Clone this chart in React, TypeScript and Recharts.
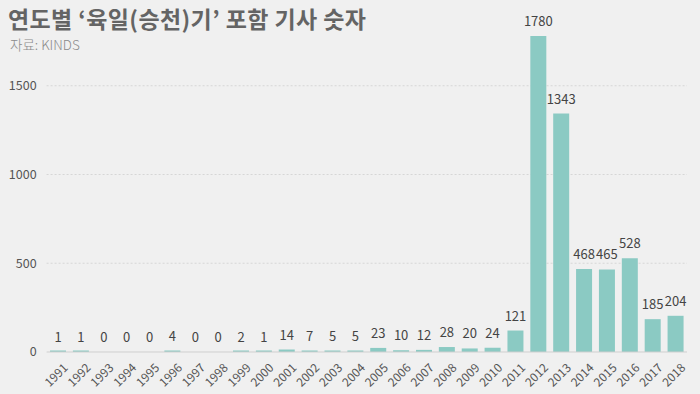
import React from "react";
import { ComposedChart, Bar, Line, XAxis, YAxis, CartesianGrid, LabelList } from "recharts";

const years = [
  "1991", "1992", "1993", "1994", "1995", "1996", "1997", "1998", "1999", "2000",
  "2001", "2002", "2003", "2004", "2005", "2006", "2007", "2008", "2009", "2010",
  "2011", "2012", "2013", "2014", "2015", "2016", "2017", "2018",
];
const counts = [
  1, 1, 0, 0, 0, 4, 0, 0, 2, 1,
  14, 7, 5, 5, 23, 10, 12, 28, 20, 24,
  121, 1780, 1343, 468, 465, 528, 185, 204,
];
const yTicks = [0, 500, 1000, 1500];

const data = years.map((year, i) => ({ year, count: counts[i] }));

const font = "'Noto Sans CJK KR', 'Noto Sans', sans-serif";

const YearTick = (props: any) => {
  const { x, y, payload } = props;
  return (
    <g transform={`translate(${x + 5},${y + 3})`}>
      <text
        transform="rotate(-45)"
        textAnchor="end"
        dy={8}
        fontSize={12}
        fill="#555"
        fontFamily={font}
      >
        {payload.value}
      </text>
    </g>
  );
};

// labels are hung on an invisible line so that zero values get one too
const ValueLabel = (props: any) => {
  const { x, y, value } = props;
  return (
    <text
      x={x}
      y={y - 10}
      textAnchor="middle"
      fontSize={13}
      fill="#444"
      fontFamily={font}
    >
      {value}
    </text>
  );
};

export default function App() {
  return (
    <div
      style={{
        position: "absolute",
        left: 0,
        top: 0,
        width: 700,
        height: 394,
        background: "#f0f0f0",
        fontFamily: font,
        overflow: "hidden",
      }}
    >
      <div
        style={{
          position: "absolute",
          left: 8,
          top: 3,
          fontSize: 23,
          fontWeight: 700,
          color: "#646464",
          lineHeight: "30px",
          letterSpacing: 0.4,
        }}
      >
        연도별 ‘육일(승천)기’ 포함 기사 숫자
      </div>
      <div
        style={{
          position: "absolute",
          left: 10,
          top: 35,
          fontSize: 13.5,
          fontWeight: 300,
          color: "#8a8a8a",
          lineHeight: "18px",
        }}
      >
        자료: KINDS
      </div>
      <ComposedChart
        width={700}
        height={394}
        data={data}
        margin={{ top: 32.5, right: 13, bottom: 0, left: 0 }}
        barCategoryGap="15%"
      >
        <CartesianGrid
          vertical={false}
          horizontal={true}
          stroke="#d6d6d6"
          strokeDasharray="2 2"
          horizontalValues={[500, 1000, 1500]}
        />
        <XAxis
          dataKey="year"
          interval={0}
          height={42}
          tickLine={false}
          axisLine={{ stroke: "#cfcfcf" }}
          tick={<YearTick />}
        />
        <YAxis
          width={46.6}
          domain={[0, 1800]}
          ticks={yTicks}
          tickLine={false}
          axisLine={false}
          tickSize={0}
          tickMargin={10}
          tick={{ fontSize: 12.5, fill: "#555", fontFamily: font }}
        />
        <Bar
          dataKey="count"
          fill="#8bcac3"
          isAnimationActive={false}
          minPointSize={(v: number) => (v > 0 ? 1.5 : 0)}
        />
        <Line
          dataKey="count"
          stroke="none"
          dot={false}
          activeDot={false}
          isAnimationActive={false}
        >
          <LabelList dataKey="count" content={<ValueLabel />} />
        </Line>
      </ComposedChart>
    </div>
  );
}
